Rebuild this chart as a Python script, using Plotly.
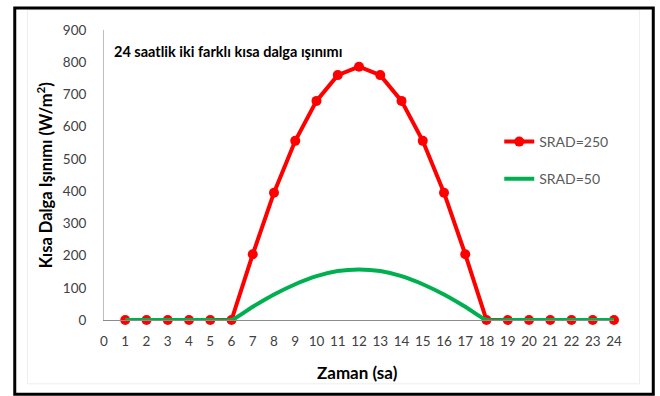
import plotly.graph_objects as go

# Hourly shortwave radiation for two SRAD settings
hours = list(range(1, 25))
srad_250 = [0, 0, 0, 0, 0, 0, 204, 395, 556, 680, 760, 786,
            760, 680, 556, 395, 204, 0, 0, 0, 0, 0, 0, 0]
srad_50 = [0, 0, 0, 0, 0, 0, 41, 79, 111, 136, 152, 157,
           152, 136, 111, 79, 41, 0, 0, 0, 0, 0, 0, 0]
x_ticks = list(range(0, 25))
y_ticks = list(range(0, 901, 100))

FONT = "Lato, 'Open Sans', sans-serif"
TICK_COLOR = "#404040"

fig = go.Figure()

fig.add_trace(go.Scatter(
    x=hours, y=srad_250, name="SRAD=250", mode="lines+markers",
    legendgroup="a", cliponaxis=False,
    line=dict(color="#ff0000", width=4),
    marker=dict(color="#ff0000", size=10),
))
fig.add_trace(go.Scatter(
    x=hours, y=srad_50, name="SRAD=50", mode="lines",
    legendgroup="b", cliponaxis=False,
    line=dict(color="#00b050", width=4, shape="spline", smoothing=0.6),
))

fig.update_layout(
    width=660, height=396,
    margin=dict(l=104, r=46, t=30, b=76),
    paper_bgcolor="white", plot_bgcolor="white",
    font=dict(family=FONT, size=13.5, color=TICK_COLOR),
    showlegend=True,
    legend=dict(
        x=0.775, y=0.55, xref="paper", yref="paper", xanchor="left", yanchor="middle",
        font=dict(family=FONT, size=14, color="#595959"),
        bgcolor="rgba(0,0,0,0)", traceorder="grouped", tracegroupgap=16, itemwidth=30,
    ),
    xaxis=dict(
        range=[0, 24], tickmode="array", tickvals=x_ticks,
        ticktext=[str(v) for v in x_ticks],
        showline=True, linecolor="#8c8c8c", linewidth=1,
        showgrid=False, zeroline=False, ticks="", ticklabelstandoff=9,
        tickfont=dict(family=FONT, size=13.5, color=TICK_COLOR),
    ),
    yaxis=dict(
        range=[0, 900], tickmode="array", tickvals=y_ticks,
        showline=True, linecolor="#bfbfbf", linewidth=1,
        showgrid=False, zeroline=False, ticks="", ticklabelstandoff=14,
        tickfont=dict(family=FONT, size=13.5, color=TICK_COLOR),
    ),
)

# Chart title and axis titles
fig.add_annotation(
    text="<b>24 saatlik iki farklı kısa dalga ışınımı</b>",
    xref="paper", yref="paper", x=0.0155, y=0.925, xanchor="left", yanchor="middle",
    showarrow=False, font=dict(family=FONT, size=14.5, color="#000000"),
)
fig.add_annotation(
    text="<b>Zaman (sa)</b>",
    xref="paper", yref="paper", x=0.497, y=-0.18, xanchor="center", yanchor="middle",
    showarrow=False, font=dict(family=FONT, size=17, color="#000000"),
)
fig.add_annotation(
    text="<b>Kısa Dalga Işınımı (W/m<sup>2</sup>)</b>",
    xref="paper", yref="paper", x=-0.115, y=0.5, xanchor="center", yanchor="middle",
    textangle=-90, showarrow=False, font=dict(family=FONT, size=16.5, color="#000000"),
)

# Faint chart-area outline and black outer frame
fig.add_shape(type="rect", xref="paper", yref="paper",
              x0=-0.15, x1=1.05, y0=-0.22, y1=1.07,
              line=dict(color="#eeeeee", width=1))
fig.add_shape(type="rect", xref="paper", yref="paper",
              x0=-0.175, x1=1.077, y0=-0.256, y1=1.076,
              line=dict(color="#000000", width=3))

fig.write_html("out.html")
